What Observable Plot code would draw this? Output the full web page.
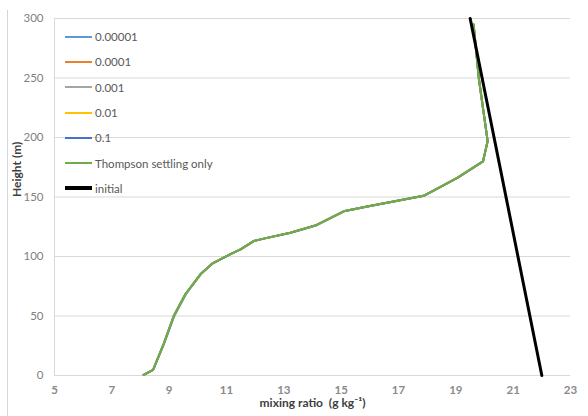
<!DOCTYPE html>
<html>
<head>
<meta charset="utf-8">
<script src="https://cdn.jsdelivr.net/npm/d3@7"></script>
<script src="https://cdn.jsdelivr.net/npm/@observablehq/plot@0.6"></script>
<style>
  html, body { margin: 0; padding: 0; background: #fff; }
  #wrap { position: relative; width: 588px; height: 416px; overflow: hidden; font-family: Lato, "Open Sans", sans-serif; }
  #border { position: absolute; left: 7px; top: 10px; width: 1px; height: 406px; background: #d6d6d6; }
  #legend { position: absolute; left: 65px; top: 24px; }
  .row { display: flex; align-items: center; height: 25.3px; font-size: 11.5px; color: #595959; }
  .sw { width: 27px; margin-right: 3px; }
</style>
</head>
<body>
<div id="wrap"><div id="border"></div><div id="legend"></div></div>
<script>
// Heights (m) of the model levels and mixing ratios (g/kg)
const heights = [0.6, 4.8, 26.6, 50, 68.5, 85, 94, 102, 106, 113, 115, 120, 126, 138, 142, 151, 166, 180, 197, 250, 295];
const thompsonOnly = [8.11, 8.44, 8.81, 9.16, 9.57, 10.09, 10.50, 11.14, 11.49, 11.95, 12.30, 13.23, 14.10, 15.09, 15.91, 17.88, 19.05, 19.95, 20.11, 19.80, 19.62];
// the sensitivity runs lie on top of each other (hidden beneath the Thompson curve)
const run00001 = [8.11, 8.44, 8.82, 9.18, 9.59, 10.10, 10.50, 11.14, 11.49, 11.95, 12.30, 13.23, 14.10, 15.09, 15.91, 17.88, 19.05, 19.95, 20.11, 19.80, 19.62];
const run0001  = thompsonOnly;
const run001   = thompsonOnly;
const run01    = thompsonOnly;
const run1     = thompsonOnly;
const initialHeights = [0, 300];
const initialRatio = [22.0, 19.5];

const seriesNames = ["0.00001", "0.0001", "0.001", "0.01", "0.1", "Thompson settling only", "initial"];
const seriesColors = ["#5B9BD5", "#ED7D31", "#A5A5A5", "#FFC000", "#4472C4", "#70AD47", "#000000"];
const seriesValues = [run00001, run0001, run001, run01, run1, thompsonOnly, initialRatio];
const seriesHeights = [heights, heights, heights, heights, heights, heights, initialHeights];

const xTicks = [5, 7, 9, 11, 13, 15, 17, 19, 21, 23];
const yTicks = [0, 50, 100, 150, 200, 250, 300];

const rows = [];
seriesNames.forEach((name, i) => {
  seriesValues[i].forEach((v, j) => rows.push({series: name, x: v, h: seriesHeights[i][j]}));
});

const lineMarks = seriesNames.map((name, i) =>
  Plot.line(rows.filter(d => d.series === name), {
    x: "x", y: "h",
    stroke: seriesColors[i],
    strokeWidth: name === "initial" ? 3 : 2,
    curve: "linear"
  })
);

const chart = Plot.plot({
  width: 588,
  height: 416,
  marginLeft: 54,
  marginRight: 18,
  marginTop: 18,
  marginBottom: 41,
  style: { fontFamily: "Lato, 'Open Sans', sans-serif", background: "transparent" },
  x: { domain: [5, 23], ticks: xTicks },
  y: { domain: [0, 300], ticks: yTicks },
  marks: [
    Plot.gridY(yTicks, { stroke: "#d9d9d9", strokeOpacity: 1, strokeWidth: 1 }),
    Plot.ruleX([5], { stroke: "#d9d9d9", strokeWidth: 1 }),
    ...lineMarks,
    Plot.axisX(xTicks, { tickSize: 0, tickPadding: 10, fontSize: 11.5, fontWeight: "bold", fill: "#8a8a8a", label: null }),
    Plot.axisY(yTicks, { tickSize: 0, tickPadding: 11, fontSize: 11.5, fill: "#7f7f7f", label: null }),
    Plot.text(["Height (m)"], { frameAnchor: "left", rotate: -90, dx: -37, fontSize: 12, fontWeight: "bold", fill: "#404040" }),
    Plot.text(["mixing ratio  (g kg⁻¹)"], { frameAnchor: "bottom", dy: 31, fontSize: 12, fontWeight: "bold", fill: "#404040" })
  ]
});
chart.style.position = "absolute";
chart.style.left = "0px";
chart.style.top = "0px";
document.getElementById("wrap").appendChild(chart);

const legend = document.getElementById("legend");
seriesNames.forEach((name, i) => {
  const row = document.createElement("div");
  row.className = "row";
  const sw = document.createElement("div");
  sw.className = "sw";
  sw.style.height = name === "initial" ? "4px" : "2px";
  sw.style.background = seriesColors[i];
  const t = document.createElement("span");
  t.textContent = name;
  row.appendChild(sw);
  row.appendChild(t);
  legend.appendChild(row);
});
document.getElementById("wrap").appendChild(legend);
</script>
</body>
</html>
